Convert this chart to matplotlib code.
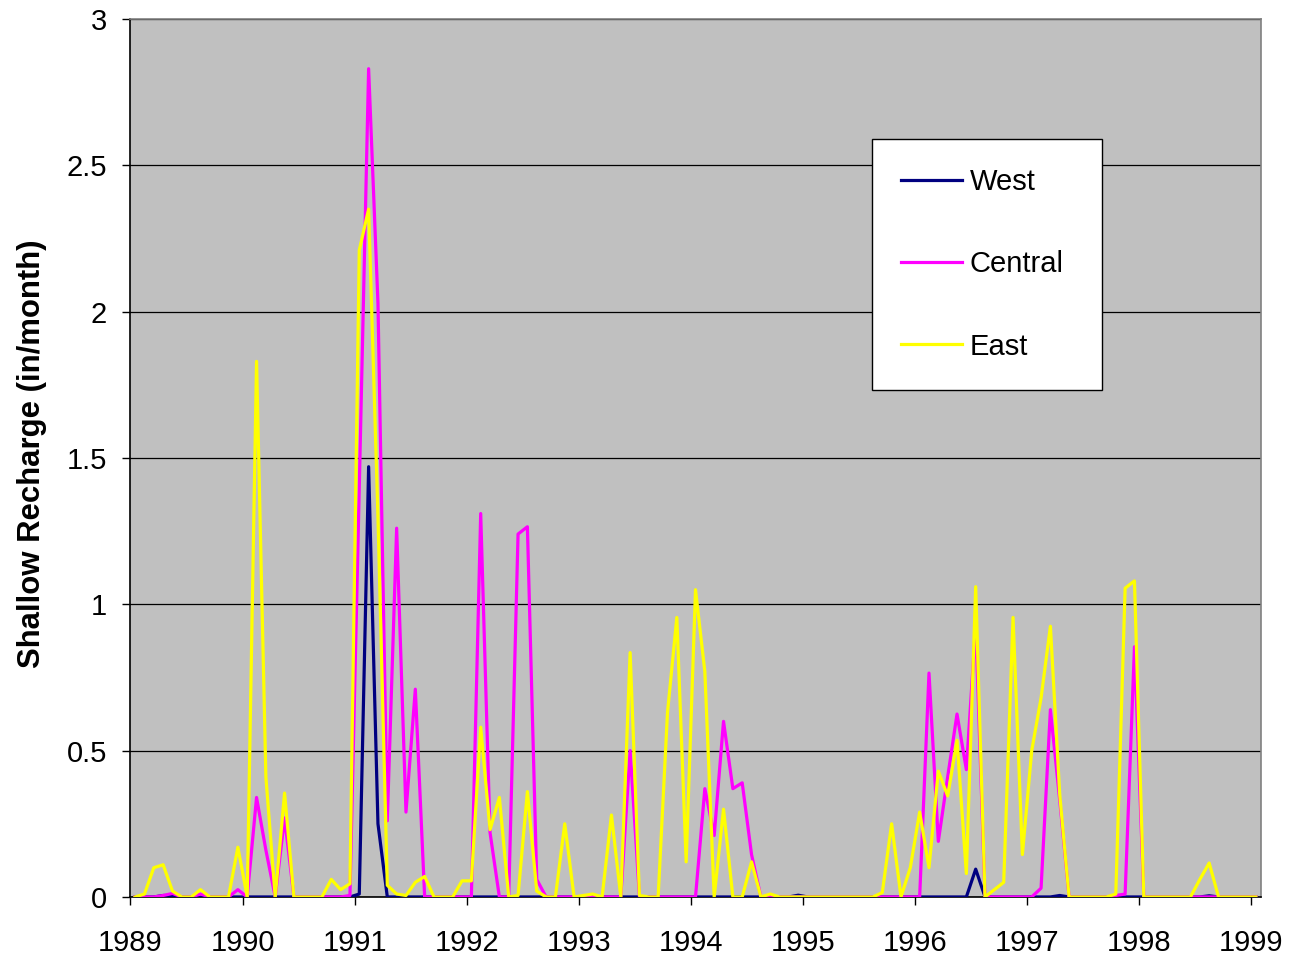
import numpy as np
import matplotlib
matplotlib.use("Agg")
import matplotlib.pyplot as plt

plt.rcParams["font.family"] = ["Liberation Sans", "DejaVu Sans"]

# monthly shallow recharge, Jan 1989 .. Jan 1999 (121 months)
years = [str(y) for y in range(1989, 2000)]

west = [0, 0, 0, 0.005, 0.005, 0, 0, 0, 0, 0, 0, 0,
        0, 0, 0, 0, 0, 0, 0, 0, 0, 0, 0, 0,
        0.01, 1.47, 0.25, 0, 0, 0, 0, 0, 0, 0, 0, 0,
        0, 0, 0, 0, 0, 0, 0, 0, 0, 0, 0, 0,
        0, 0, 0, 0, 0, 0, 0, 0, 0, 0, 0, 0,
        0, 0, 0, 0, 0, 0, 0, 0, 0, 0, 0, 0.006,
        0, 0, 0, 0, 0, 0, 0, 0, 0, 0, 0, 0,
        0, 0, 0, 0, 0, 0, 0.095, 0, 0, 0, 0, 0,
        0, 0, 0, 0.005, 0, 0, 0, 0, 0, 0, 0, 0,
        0, 0, 0, 0, 0, 0, 0, 0.004, 0, 0, 0, 0,
        0]

central = [0, 0, 0, 0.005, 0.012, 0, 0, 0.01, 0, 0, 0, 0.025,
           0, 0.34, 0.16, 0, 0.27, 0, 0, 0, 0, 0, 0, 0.005,
           1.4, 2.83, 2.03, 0.26, 1.26, 0.29, 0.71, 0, 0, 0, 0, 0,
           0, 1.31, 0.22, 0, 0, 1.24, 1.265, 0.06, 0, 0, 0, 0,
           0, 0, 0, 0, 0, 0.50, 0, 0, 0, 0, 0, 0,
           0, 0.37, 0.21, 0.60, 0.37, 0.39, 0.145, 0, 0, 0, 0, 0,
           0, 0, 0, 0, 0, 0, 0, 0, 0, 0, 0, 0,
           0, 0.765, 0.19, 0.41, 0.625, 0.435, 0.93, 0, 0, 0, 0, 0,
           0, 0.03, 0.64, 0.33, 0, 0, 0, 0, 0, 0.005, 0.01, 0.855,
           0, 0, 0, 0, 0, 0, 0, 0, 0, 0, 0, 0,
           0]

east = [0, 0.01, 0.10, 0.11, 0.02, 0, 0, 0.025, 0, 0, 0, 0.17,
        0, 1.83, 0.41, 0, 0.355, 0, 0, 0, 0, 0.06, 0.025, 0.045,
        2.21, 2.35, 1.3, 0.04, 0.01, 0.005, 0.05, 0.07, 0, 0, 0, 0.055,
        0.055, 0.58, 0.23, 0.34, 0, 0.005, 0.36, 0.02, 0, 0, 0.25, 0,
        0.005, 0.01, 0, 0.28, 0, 0.835, 0.005, 0, 0, 0.63, 0.955, 0.12,
        1.05, 0.77, 0, 0.30, 0, 0, 0.12, 0, 0.01, 0, 0, 0,
        0, 0, 0, 0, 0, 0, 0, 0, 0.015, 0.25, 0, 0.10,
        0.29, 0.10, 0.43, 0.345, 0.535, 0.08, 1.06, 0, 0.025, 0.05, 0.955, 0.145,
        0.50, 0.68, 0.925, 0.35, 0, 0, 0, 0, 0, 0.01, 1.055, 1.08,
        0, 0, 0, 0, 0, 0, 0.06, 0.116, 0, 0, 0, 0,
        0]

series = [("West", west, "#000080"),
          ("Central", central, "#FF00FF"),
          ("East", east, "#FFFF00")]

n = len(east)
x = np.arange(n) + 0.5   # points sit between the year tick marks (Excel style)

fig = plt.figure(figsize=(12.93, 9.59), dpi=100)
ax = fig.add_axes([0.1009, 0.0647, 0.874, 0.9155])
ax.set_facecolor("#C0C0C0")

for name, vals, col in series:
    ax.plot(x, vals, color=col, lw=2.3, label=name, zorder=3)

ax.set_xlim(0, n)
ax.set_ylim(0, 3)
ax.set_xticks(np.arange(0, n, 12))
ax.set_xticklabels(years)
ax.set_yticks(np.arange(0, 3.01, 0.5))
ax.set_yticklabels(["0", "0.5", "1", "1.5", "2", "2.5", "3"])
ax.tick_params(axis="both", labelsize=21, length=6, width=1, direction="out", color="black")
ax.tick_params(axis="x", pad=17)
ax.tick_params(axis="y", pad=11)
ax.yaxis.grid(True, color="black", lw=0.9, zorder=1)
ax.set_axisbelow(True)

ax.spines["left"].set_color("black")
ax.spines["bottom"].set_color("black")
ax.spines["right"].set_color("#808080")
ax.spines["top"].set_color("#808080")
for s in ax.spines.values():
    s.set_linewidth(1.2)

ax.set_ylabel("Shallow Recharge (in/month)", fontsize=22.4, fontweight="bold")
ax.yaxis.set_label_coords(-0.074, 0.505)

leg = ax.legend(loc="upper left", bbox_to_anchor=(0.656, 0.8633 - 0.281, 0.2035, 0.281),
                mode="expand", borderaxespad=0, fontsize=21, frameon=True, fancybox=False,
                edgecolor="black", framealpha=1, borderpad=1.0, labelspacing=1.86,
                handlelength=2.1, handletextpad=0.25)
leg.get_frame().set_linewidth(1.0)
for h in leg.get_lines():
    h.set_linewidth(2.3)

fig.savefig("out.png", dpi=100)
